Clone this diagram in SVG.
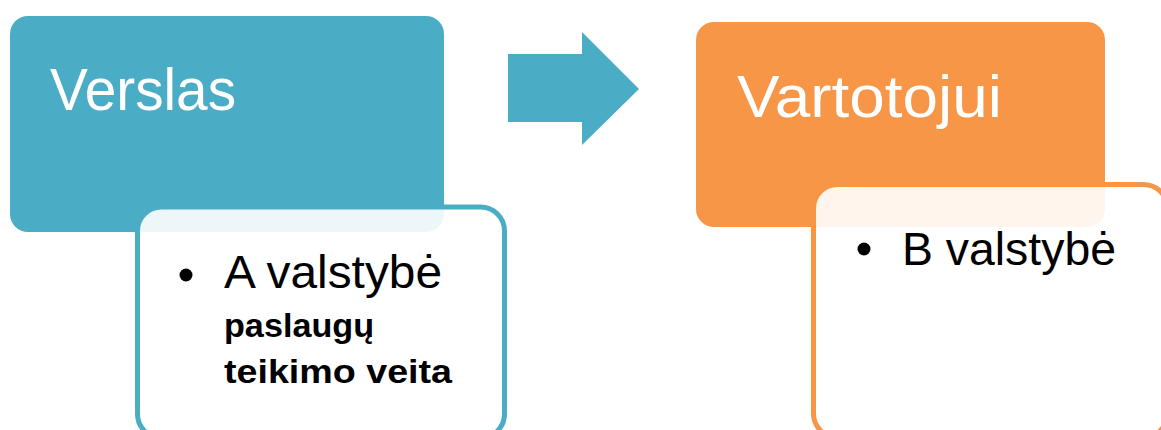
<svg xmlns="http://www.w3.org/2000/svg" width="1161" height="430" viewBox="0 0 1161 430">
<style>
.head{font-family:"Liberation Sans",Arial,sans-serif;font-size:59px;fill:#ffffff}
.item{font-family:"Liberation Sans",Arial,sans-serif;font-size:46px;fill:#000000}
.bold{font-family:"Liberation Sans",Arial,sans-serif;font-size:33px;font-weight:bold;fill:#000000}
.card{fill:#ffffff;fill-opacity:0.9;stroke-width:5}
</style>
<rect width="1161" height="430" fill="#ffffff"/>
<g id="verslas">
<rect x="10" y="16" width="434" height="216" rx="18" fill="#4BACC6"/>
<text class="head" x="50" y="110" textLength="186" lengthAdjust="spacingAndGlyphs">Verslas</text>
</g>
<g id="verslas-detail">
<rect class="card" x="137.5" y="207" width="367" height="231" rx="24" stroke="#4BACC6"/>
<circle cx="186" cy="275" r="6.5" fill="#000000"/>
<text class="item" x="224" y="288" textLength="218" lengthAdjust="spacingAndGlyphs">A valstybė</text>
<text class="bold" x="224" y="337" textLength="150" lengthAdjust="spacingAndGlyphs">paslaugų</text>
<text class="bold" x="224" y="383" textLength="228" lengthAdjust="spacingAndGlyphs">teikimo veita</text>
</g>
<g id="connectors">
<polygon points="508,54 582,54 582,32 639,89 582,145 582,122 508,122" fill="#4BACC6"/>
</g>
<g id="vartotojui">
<rect x="696" y="22" width="409" height="205" rx="18" fill="#F79646"/>
<text class="head" x="737" y="117" textLength="265" lengthAdjust="spacingAndGlyphs">Vartotojui</text>
</g>
<g id="vartotojui-detail">
<rect class="card" x="813.5" y="184.5" width="354" height="253" rx="24" stroke="#F79646"/>
<circle cx="864" cy="249" r="6.5" fill="#000000"/>
<text class="item" x="902" y="265" textLength="214" lengthAdjust="spacingAndGlyphs">B valstybė</text>
</g>
</svg>
